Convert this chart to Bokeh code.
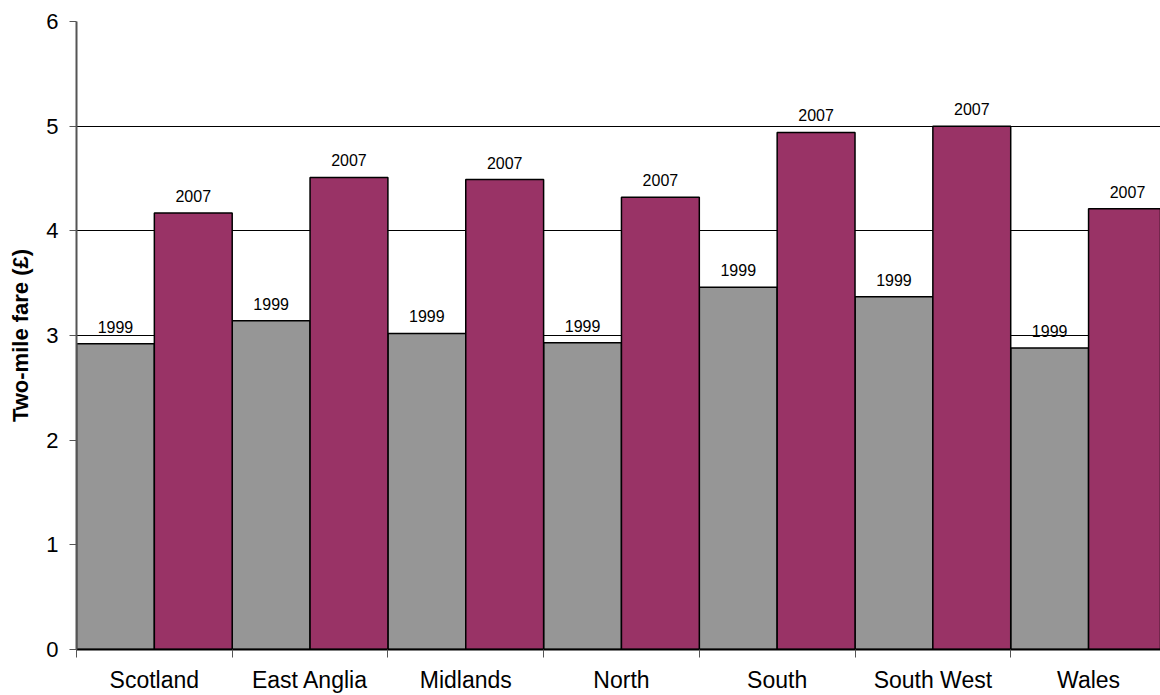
from bokeh.plotting import figure
from bokeh.models import Range1d, FixedTicker, ColumnDataSource, LabelSet
from bokeh.transform import dodge
from bokeh.core.properties import value
from bokeh.embed import file_html
from bokeh.resources import INLINE

# Two-mile taxi fare by region, 1999 vs 2007 (pounds)
regions = ["Scotland", "East Anglia", "Midlands", "North", "South", "South West", "Wales"]
fare_1999 = [2.92, 3.14, 3.02, 2.93, 3.46, 3.37, 2.88]
fare_2007 = [4.17, 4.51, 4.49, 4.32, 4.94, 5.00, 4.21]
years = ["1999", "2007"]
y_ticks = [0, 1, 2, 3, 4, 5, 6]

FONT = "Liberation Sans"
GREY = "#969696"
PLUM = "#993366"

n = len(regions)
pos = list(range(n))
source = ColumnDataSource(dict(
    pos=pos,
    region=regions,
    f1999=fare_1999,
    f2007=fare_2007,
    l1999=[years[0]] * n,
    l2007=[years[1]] * n,
))

p = figure(
    width=1160, height=695,
    output_backend="svg", toolbar_location=None,
    x_range=Range1d(0, 6.962), y_range=Range1d(0, 6),
    min_border_left=76, min_border_right=0, min_border_top=21, min_border_bottom=45,
)
p.outline_line_color = None
p.background_fill_color = "white"
p.border_fill_color = "white"

# bars: each region split into two halves, no gap between regions
p.vbar(x=dodge("pos", 0.25), top="f1999", bottom=0, width=0.5, source=source,
       fill_color=GREY, line_color="black", line_width=1.5)
p.vbar(x=dodge("pos", 0.75), top="f2007", bottom=0, width=0.5, source=source,
       fill_color=PLUM, line_color="black", line_width=1.5)

# year labels above each bar
for col, lab, off in (("f1999", "l1999", 0.25), ("f2007", "l2007", 0.75)):
    p.add_layout(LabelSet(
        x=dodge("pos", off), y=col, text=lab, source=source,
        y_offset=11, text_align="center", text_baseline="alphabetic",
        text_font=value(FONT), text_font_size=value("16px"), text_color="black",
    ))

# x axis: region names centred, tick marks on the region boundaries
xaxis = p.xaxis[0]
xaxis.ticker = FixedTicker(ticks=[i + 0.5 for i in pos], minor_ticks=list(range(n + 1)))
xaxis.major_label_overrides = {i + 0.5: r for i, r in zip(pos, regions)}
xaxis.major_tick_out = 0
xaxis.major_tick_in = 0
xaxis.minor_tick_out = 8
xaxis.minor_tick_in = 0
xaxis.minor_tick_line_color = "#555555"
xaxis.axis_line_color = "black"
xaxis.axis_line_width = 2
xaxis.major_label_standoff = 9
xaxis.major_label_text_font = FONT
xaxis.major_label_text_font_size = "23px"
xaxis.major_label_text_color = "black"

# y axis
yaxis = p.yaxis[0]
yaxis.ticker = FixedTicker(ticks=y_ticks)
yaxis.major_tick_out = 7
yaxis.major_tick_in = 0
yaxis.minor_tick_out = 0
yaxis.minor_tick_in = 0
yaxis.major_tick_line_color = "#555555"
yaxis.axis_line_color = "#555555"
yaxis.axis_line_width = 2
yaxis.major_label_standoff = 11
yaxis.major_label_text_font = FONT
yaxis.major_label_text_font_size = "22px"
yaxis.major_label_text_color = "black"
yaxis.axis_label = "Two-mile fare (£)"
yaxis.axis_label_text_font = FONT
yaxis.axis_label_text_font_size = "22px"
yaxis.axis_label_text_font_style = "bold"
yaxis.axis_label_text_color = "black"
yaxis.axis_label_standoff = 10

p.xgrid.grid_line_color = None
p.ygrid.grid_line_color = "black"
p.ygrid.grid_line_width = 1

open("out.html", "w").write(file_html(p, INLINE))
